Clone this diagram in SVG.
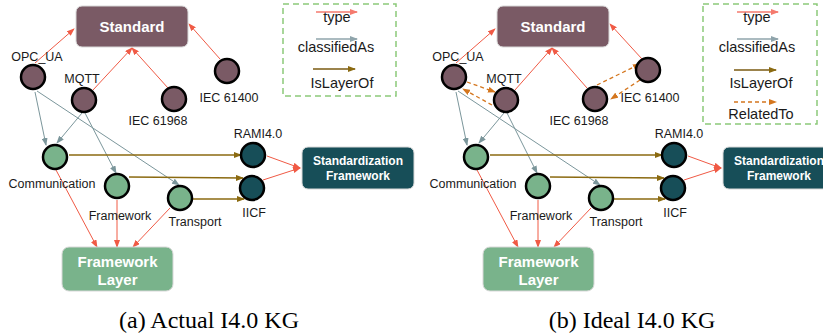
<svg xmlns="http://www.w3.org/2000/svg" width="823" height="336" viewBox="0 0 823 336">
<style>
.bg{fill:#ffffff}
.std{fill:#7a5a65}
.grn{fill:#79b38b}
.teal{fill:#174e58}
.box{stroke:#d8d8d8;stroke-width:1}
.node{stroke:#000;stroke-width:2.5}
.lbl{font-family:"Liberation Sans",Arial,sans-serif;font-size:12.5px;fill:#1a1a1a;text-anchor:middle}
.btxt{font-family:"Liberation Sans",Arial,sans-serif;font-weight:bold;fill:#ffffff;text-anchor:middle}
.leg{font-family:"Liberation Sans",Arial,sans-serif;font-size:14.5px;fill:#1a1a1a;text-anchor:middle}
.cap{font-family:"Liberation Serif","Times New Roman",serif;font-size:24px;fill:#000;text-anchor:middle}
.type{stroke:#f05a45;stroke-width:1;fill:none;marker-end:url(#arR)}
.cls{stroke:#7b969b;stroke-width:1;fill:none;marker-end:url(#arG)}
.lay{stroke:#8b6a10;stroke-width:1.3;fill:none;marker-end:url(#arB)}
.rel{stroke:#d4761e;stroke-width:1.3;fill:none;stroke-dasharray:4,3;marker-end:url(#arO)}
.legbox{fill:none;stroke:#8cc97a;stroke-width:1.5;stroke-dasharray:6,4}
</style>
<defs>
<marker id="arR" markerWidth="8" markerHeight="6" refX="7" refY="3" orient="auto" markerUnits="userSpaceOnUse"><path d="M0,0 L8,3 L0,6 z" fill="#f05a45"/></marker>
<marker id="arG" markerWidth="8" markerHeight="6" refX="7" refY="3" orient="auto" markerUnits="userSpaceOnUse"><path d="M0,0 L8,3 L0,6 z" fill="#7b969b"/></marker>
<marker id="arB" markerWidth="8" markerHeight="6" refX="7" refY="3" orient="auto" markerUnits="userSpaceOnUse"><path d="M0,0 L8,3 L0,6 z" fill="#8b6a10"/></marker>
<marker id="arO" markerWidth="8" markerHeight="6" refX="7" refY="3" orient="auto" markerUnits="userSpaceOnUse"><path d="M0,0 L8,3 L0,6 z" fill="#d4761e"/></marker>
<marker id="arRL" markerWidth="8" markerHeight="6" refX="7" refY="3" orient="auto" markerUnits="userSpaceOnUse"><path d="M0,0 L8,3 L0,6 z" fill="#f47a6e"/></marker>
<marker id="arGL" markerWidth="8" markerHeight="6" refX="7" refY="3" orient="auto" markerUnits="userSpaceOnUse"><path d="M0,0 L8,3 L0,6 z" fill="#8fa4ab"/></marker>
</defs>
<rect class="bg" x="0" y="0" width="823" height="336"/>

<!-- Panel (a) -->
<g id="panel-a">
<g id="a-connectors">
<line class="type" x1="35" y1="63" x2="74" y2="29"/>
<line class="type" x1="93" y1="90" x2="132" y2="48"/>
<line class="type" x1="168" y1="88" x2="132" y2="48"/>
<line class="type" x1="220" y1="59" x2="189" y2="24"/>
<line class="type" x1="267" y1="156" x2="300" y2="168"/>
<line class="type" x1="263" y1="180" x2="300" y2="168"/>
<line class="type" x1="56" y1="170" x2="97" y2="247"/>
<line class="type" x1="117" y1="200" x2="117" y2="247"/>
<line class="type" x1="170" y1="208" x2="133" y2="247"/>
<line class="cls" x1="35" y1="92" x2="46" y2="145"/>
<line class="cls" x1="37" y1="91" x2="179" y2="185"/>
<line class="cls" x1="82" y1="113" x2="57" y2="143"/>
<line class="cls" x1="85" y1="113" x2="116" y2="173"/>
<line class="lay" x1="69" y1="155" x2="241" y2="155"/>
<line class="lay" x1="129" y1="177" x2="243" y2="178"/>
<line class="lay" x1="193" y1="199" x2="244" y2="199"/>
</g>
<g id="a-standard"><rect class="std box" x="76" y="6" width="112" height="41" rx="6"/><text class="btxt" x="132" y="32" font-size="15">Standard</text></g>
<g id="a-opcua"><circle class="std node" cx="33" cy="77" r="12"/><text class="lbl" x="37" y="61">OPC_UA</text></g>
<g id="a-mqtt"><circle class="std node" cx="84" cy="100" r="12"/><text class="lbl" x="82" y="83">MQTT</text></g>
<g id="a-iec61968"><circle class="std node" cx="174" cy="99" r="12"/><text class="lbl" x="158" y="125">IEC 61968</text></g>
<g id="a-iec61400"><circle class="std node" cx="227" cy="71" r="12"/><text class="lbl" x="229" y="102">IEC 61400</text></g>
<g id="a-communication"><circle class="grn node" cx="55" cy="157" r="12"/><text class="lbl" x="52" y="188" font-size="11.5">Communication</text></g>
<g id="a-framework"><circle class="grn node" cx="117" cy="186" r="12"/><text class="lbl" x="120" y="220">Framework</text></g>
<g id="a-transport"><circle class="grn node" cx="180" cy="198" r="12"/><text class="lbl" x="195" y="226">Transport</text></g>
<g id="a-rami"><circle class="teal node" cx="253" cy="155" r="12"/><text class="lbl" x="258" y="138">RAMI4.0</text></g>
<g id="a-iicf"><circle class="teal node" cx="252" cy="188" r="12"/><text class="lbl" x="254" y="217">IICF</text></g>
<g id="a-stdframework"><rect class="teal box" x="302" y="147" width="112" height="42" rx="6"/><text class="btxt" x="358" y="165" font-size="12">Standardization</text><text class="btxt" x="358" y="180" font-size="12">Framework</text></g>
<g id="a-fwlayer"><rect class="grn box" x="62" y="247" width="111" height="44" rx="7"/><text class="btxt" x="117.5" y="267" font-size="15">Framework</text><text class="btxt" x="117.5" y="285" font-size="15">Layer</text></g>
<g id="a-legend">
<rect class="legbox" x="283" y="4" width="113" height="92"/>
<line x1="316" y1="12" x2="357" y2="12" stroke="#f47a6e" stroke-width="1.5" marker-end="url(#arRL)"/>
<text class="leg" x="337" y="22">type</text>
<line x1="316" y1="39" x2="357" y2="39" stroke="#8fa4ab" stroke-width="1.5" marker-end="url(#arGL)"/>
<text class="leg" x="336" y="52">classifiedAs</text>
<line x1="313" y1="69" x2="355" y2="69" stroke="#7a5a10" stroke-width="1.3" marker-end="url(#arB)"/>
<text class="leg" x="342" y="88">IsLayerOf</text>
</g>
<text class="cap" x="209" y="328">(a) Actual I4.0 KG</text>
</g>

<!-- Panel (b) -->
<g id="panel-b">
<g id="b-connectors" transform="translate(421,0)">
<line class="type" x1="35" y1="63" x2="74" y2="29"/>
<line class="type" x1="94" y1="90" x2="131" y2="48"/>
<line class="type" x1="166" y1="88" x2="131" y2="48"/>
<line class="type" x1="221" y1="59" x2="189" y2="24"/>
<line class="type" x1="267" y1="156" x2="300" y2="168"/>
<line class="type" x1="263" y1="180" x2="300" y2="168"/>
<line class="type" x1="56" y1="170" x2="97" y2="247"/>
<line class="type" x1="117" y1="200" x2="117" y2="247"/>
<line class="type" x1="170" y1="208" x2="133" y2="247"/>
<line class="cls" x1="35" y1="92" x2="46" y2="145"/>
<line class="cls" x1="37" y1="91" x2="179" y2="185"/>
<line class="cls" x1="83" y1="113" x2="58" y2="143"/>
<line class="cls" x1="86" y1="113" x2="116" y2="173"/>
<line class="lay" x1="69" y1="155" x2="241" y2="155"/>
<line class="lay" x1="129" y1="177" x2="243" y2="178"/>
<line class="lay" x1="193" y1="199" x2="244" y2="199"/>
<line class="rel" x1="46" y1="82" x2="74" y2="92"/>
<line class="rel" x1="71" y1="105" x2="42" y2="89"/>
<line class="rel" x1="176" y1="85" x2="219" y2="64"/>
<line class="rel" x1="219" y1="80" x2="190" y2="99"/>
</g>
<g id="b-standard"><rect class="std box" x="497" y="6" width="112" height="41" rx="6"/><text class="btxt" x="553" y="32" font-size="15">Standard</text></g>
<g id="b-opcua"><circle class="std node" cx="454" cy="77" r="12"/><text class="lbl" x="458" y="61">OPC_UA</text></g>
<g id="b-mqtt"><circle class="std node" cx="506" cy="100" r="12"/><text class="lbl" x="504" y="83">MQTT</text></g>
<g id="b-iec61968"><circle class="std node" cx="595" cy="99" r="12"/><text class="lbl" x="579" y="125">IEC 61968</text></g>
<g id="b-iec61400"><circle class="std node" cx="648" cy="70" r="12"/><text class="lbl" x="650" y="102">IEC 61400</text></g>
<g id="b-communication"><circle class="grn node" cx="476" cy="157" r="12"/><text class="lbl" x="473" y="188" font-size="11.5">Communication</text></g>
<g id="b-framework"><circle class="grn node" cx="538" cy="186" r="12"/><text class="lbl" x="541" y="220">Framework</text></g>
<g id="b-transport"><circle class="grn node" cx="601" cy="198" r="12"/><text class="lbl" x="616" y="226">Transport</text></g>
<g id="b-rami"><circle class="teal node" cx="674" cy="155" r="12"/><text class="lbl" x="679" y="138">RAMI4.0</text></g>
<g id="b-iicf"><circle class="teal node" cx="673" cy="188" r="12"/><text class="lbl" x="675" y="217">IICF</text></g>
<g id="b-stdframework"><rect class="teal box" x="723" y="147" width="112" height="42" rx="6"/><text class="btxt" x="779" y="165" font-size="12">Standardization</text><text class="btxt" x="779" y="180" font-size="12">Framework</text></g>
<g id="b-fwlayer"><rect class="grn box" x="483" y="247" width="111" height="44" rx="7"/><text class="btxt" x="538.5" y="267" font-size="15">Framework</text><text class="btxt" x="538.5" y="285" font-size="15">Layer</text></g>
<g id="b-legend">
<rect class="legbox" x="703" y="4" width="114" height="120"/>
<line x1="737" y1="12" x2="778" y2="12" stroke="#f47a6e" stroke-width="1.5" marker-end="url(#arRL)"/>
<text class="leg" x="757" y="22">type</text>
<line x1="737" y1="39" x2="778" y2="39" stroke="#8fa4ab" stroke-width="1.5" marker-end="url(#arGL)"/>
<text class="leg" x="757" y="52">classifiedAs</text>
<line x1="734" y1="70" x2="776" y2="70" stroke="#7a5a10" stroke-width="1.3" marker-end="url(#arB)"/>
<text class="leg" x="761" y="88">IsLayerOf</text>
<line x1="734" y1="102" x2="776" y2="102" stroke="#d4761e" stroke-width="1.3" stroke-dasharray="4,3" marker-end="url(#arO)"/>
<text class="leg" x="761" y="119">RelatedTo</text>
</g>
<text class="cap" x="632" y="328">(b) Ideal I4.0 KG</text>
</g>
</svg>
